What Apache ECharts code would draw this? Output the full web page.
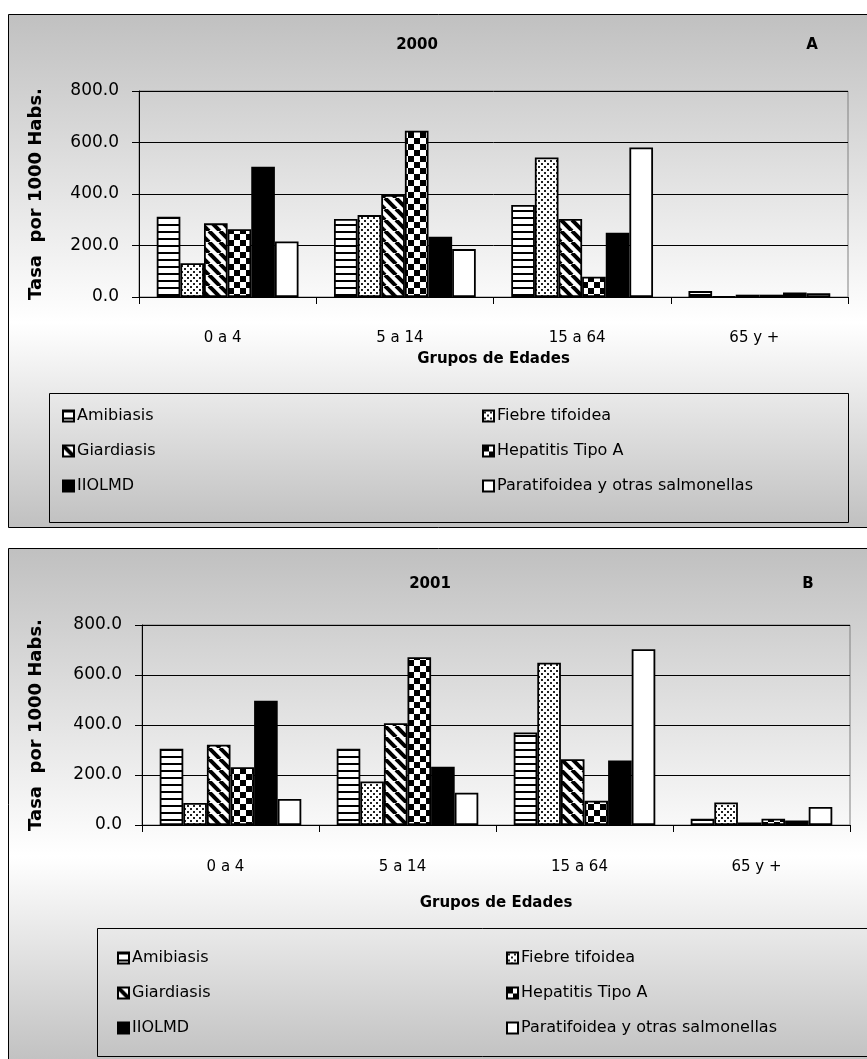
<!DOCTYPE html>
<html>
<head>
<meta charset="utf-8">
<script src="https://cdn.jsdelivr.net/npm/echarts@6/dist/echarts.min.js"></script>
<style>
html,body{margin:0;padding:0;background:#ffffff;}
#chart{width:867px;height:1059px;}
</style>
</head>
<body>
<div id="chart"></div>
<script>
// ---- data ----
const categories = ['0 a 4', '5 a 14', '15 a 64', '65 y +'];
const seriesNames = ['Amibiasis', 'Fiebre tifoidea', 'Giardiasis', 'Hepatitis Tipo A', 'IIOLMD', 'Paratifoidea y otras salmonellas'];
const yTicks = [0, 200, 400, 600, 800];

// 2000 (A)
const amibiasis2000 = [312, 303, 357, 23];
const fiebre2000 = [131, 318, 542, 1];
const giardiasis2000 = [286, 396, 303, 9];
const hepatitis2000 = [263, 646, 79, 9];
const iiolmd2000 = [506, 234, 250, 17];
const paratifoidea2000 = [216, 186, 581, 15];

// 2001 (B)
const amibiasis2001 = [305, 305, 370, 25];
const fiebre2001 = [88, 174, 649, 90];
const giardiasis2001 = [321, 407, 263, 10];
const hepatitis2001 = [231, 671, 97, 25];
const iiolmd2001 = [497, 233, 258, 18];
const paratifoidea2001 = [104, 129, 703, 72];

const data2000 = [amibiasis2000, fiebre2000, giardiasis2000, hepatitis2000, iiolmd2000, paratifoidea2000];
const data2001 = [amibiasis2001, fiebre2001, giardiasis2001, hepatitis2001, iiolmd2001, paratifoidea2001];

// ---- patterns ----
function makeCanvas(w, h, draw) {
  const c = document.createElement('canvas');
  c.width = w; c.height = h;
  const ctx = c.getContext('2d');
  ctx.fillStyle = '#ffffff';
  ctx.fillRect(0, 0, w, h);
  draw(ctx, w, h);
  return c;
}
const pHoriz = makeCanvas(8, 7, (ctx, w) => { ctx.fillStyle = '#000'; ctx.fillRect(0, 0, w, 2); });
const pDots = makeCanvas(6, 6, (ctx) => {
  ctx.fillStyle = '#222';
  ctx.fillRect(1, 1, 2, 2);
  ctx.fillRect(4, 4, 2, 2);
});
const pDiag = makeCanvas(11, 11, (ctx, w, h) => {
  ctx.strokeStyle = '#000'; ctx.lineWidth = 4;
  for (let k = -1; k <= 1; k++) {
    ctx.beginPath(); ctx.moveTo(k * w, 0); ctx.lineTo(k * w + w, h); ctx.stroke();
  }
});
const pCheck = makeCanvas(12, 12, (ctx) => {
  ctx.fillStyle = '#000';
  ctx.fillRect(0, 0, 6, 6);
  ctx.fillRect(6, 6, 6, 6);
});
const fills = [
  { image: pHoriz, repeat: 'repeat' },
  { image: pDots, repeat: 'repeat' },
  { image: pDiag, repeat: 'repeat' },
  { image: pCheck, repeat: 'repeat' },
  '#000000',
  '#ffffff'
];

const FONT = 'DejaVu Sans';

function makeSeries(dataSet, idx) {
  return dataSet.map((vals, i) => ({
    name: seriesNames[i],
    type: 'bar',
    xAxisIndex: idx,
    yAxisIndex: idx,
    data: vals,
    barGap: '0%',
    barCategoryGap: '20%',
    itemStyle: { color: fills[i], borderColor: '#000', borderWidth: 1.8 },
    emphasis: { disabled: true },
    animation: false
  }));
}

function xAxis(gridIndex, nameGap, margin) {
  return {
    type: 'category', gridIndex, data: categories,
    name: 'Grupos de Edades', nameLocation: 'middle', nameGap,
    nameTextStyle: { fontFamily: FONT, fontSize: 15, fontWeight: 'bold', color: '#000' },
    axisLine: { lineStyle: { color: '#000', width: 1 } },
    axisTick: { show: true, inside: false, length: 7, lineStyle: { color: '#000' } },
    axisLabel: { margin, fontFamily: FONT, fontSize: 15, color: '#000', padding: [0, 10, 0, 0] },
    splitLine: { show: false }
  };
}
function yAxis(gridIndex, nameGap) {
  return {
    type: 'value', gridIndex, min: yTicks[0], max: yTicks[yTicks.length - 1], interval: 200,
    name: 'Tasa  por 1000 Habs.', nameLocation: 'middle', nameGap, nameRotate: 90,
    nameTextStyle: { fontFamily: FONT, fontSize: 18, fontWeight: 'bold', color: '#000' },
    axisLine: { show: true, lineStyle: { color: '#000', width: 1 } },
    axisTick: { show: true, inside: false, length: 7, lineStyle: { color: '#000' } },
    axisLabel: { margin: 20, fontFamily: FONT, fontSize: 17, color: '#000', formatter: v => v.toFixed(1) },
    splitLine: { show: true, lineStyle: { color: '#000', width: 1 } }
  };
}
function legend(left, top, names) {
  return {
    orient: 'vertical', left, top, data: names,
    itemWidth: 11, itemHeight: 11, itemGap: 19,
    icon: 'rect',
    textStyle: { fontFamily: FONT, fontSize: 16, color: '#000', padding: [0, 0, 0, -2] },
    selectedMode: false
  };
}
function bgGradient(c1, c2, c3, mid) {
  return { type: 'linear', x: 0, y: 0, x2: 0, y2: 1,
    colorStops: [{ offset: 0, color: c1 }, { offset: mid, color: c2 }, { offset: 1, color: c3 }] };
}

const chart = echarts.init(document.getElementById('chart'), null, { renderer: 'canvas' });
chart.setOption({
  animation: false,
  backgroundColor: '#ffffff',
  graphic: [
    { type: 'rect', z: -10, shape: { x: 8.5, y: 14.5, width: 880, height: 513 },
      style: { fill: bgGradient('#c0c0c0', '#ffffff', '#c0c0c0', 0.6), stroke: '#000', lineWidth: 1 } },
    { type: 'rect', z: -10, shape: { x: 8.5, y: 548.5, width: 880, height: 530 },
      style: { fill: bgGradient('#c0c0c0', '#ffffff', '#bcbcbc', 0.58), stroke: '#000', lineWidth: 1 } },
    { type: 'rect', z: -5, shape: { x: 49.5, y: 393.5, width: 799, height: 129 },
      style: { fill: 'transparent', stroke: '#000', lineWidth: 1 } },
    { type: 'rect', z: -5, shape: { x: 97.5, y: 928.5, width: 800, height: 128 },
      style: { fill: 'transparent', stroke: '#000', lineWidth: 1 } },
    { type: 'text', style: { x: 417, y: 45, text: '2000', textAlign: 'center', textVerticalAlign: 'middle',
      font: 'bold 15px "' + FONT + '"', fill: '#000' } },
    { type: 'text', style: { x: 812, y: 45, text: 'A', textAlign: 'center', textVerticalAlign: 'middle',
      font: 'bold 15px "' + FONT + '"', fill: '#000' } },
    { type: 'text', style: { x: 430, y: 584, text: '2001', textAlign: 'center', textVerticalAlign: 'middle',
      font: 'bold 15px "' + FONT + '"', fill: '#000' } },
    { type: 'text', style: { x: 808, y: 584, text: 'B', textAlign: 'center', textVerticalAlign: 'middle',
      font: 'bold 15px "' + FONT + '"', fill: '#000' } }
  ],
  grid: [
    { left: 139, top: 91, width: 709, height: 206, show: true, backgroundColor: 'transparent', borderColor: '#808080', borderWidth: 1 },
    { left: 142, top: 625, width: 708, height: 200, show: true, backgroundColor: 'transparent', borderColor: '#808080', borderWidth: 1 }
  ],
  xAxis: [xAxis(0, 55, 34), xAxis(1, 71, 35)],
  yAxis: [yAxis(0, 94), yAxis(1, 97)],
  legend: [
    legend(57, 403, [seriesNames[0], seriesNames[2], seriesNames[4]]),
    legend(477, 403, [seriesNames[1], seriesNames[3], seriesNames[5]]),
    legend(112, 945, [seriesNames[0], seriesNames[2], seriesNames[4]]),
    legend(501, 945, [seriesNames[1], seriesNames[3], seriesNames[5]])
  ],
  series: makeSeries(data2000, 0).concat(makeSeries(data2001, 1))
});
</script>
</body>
</html>
